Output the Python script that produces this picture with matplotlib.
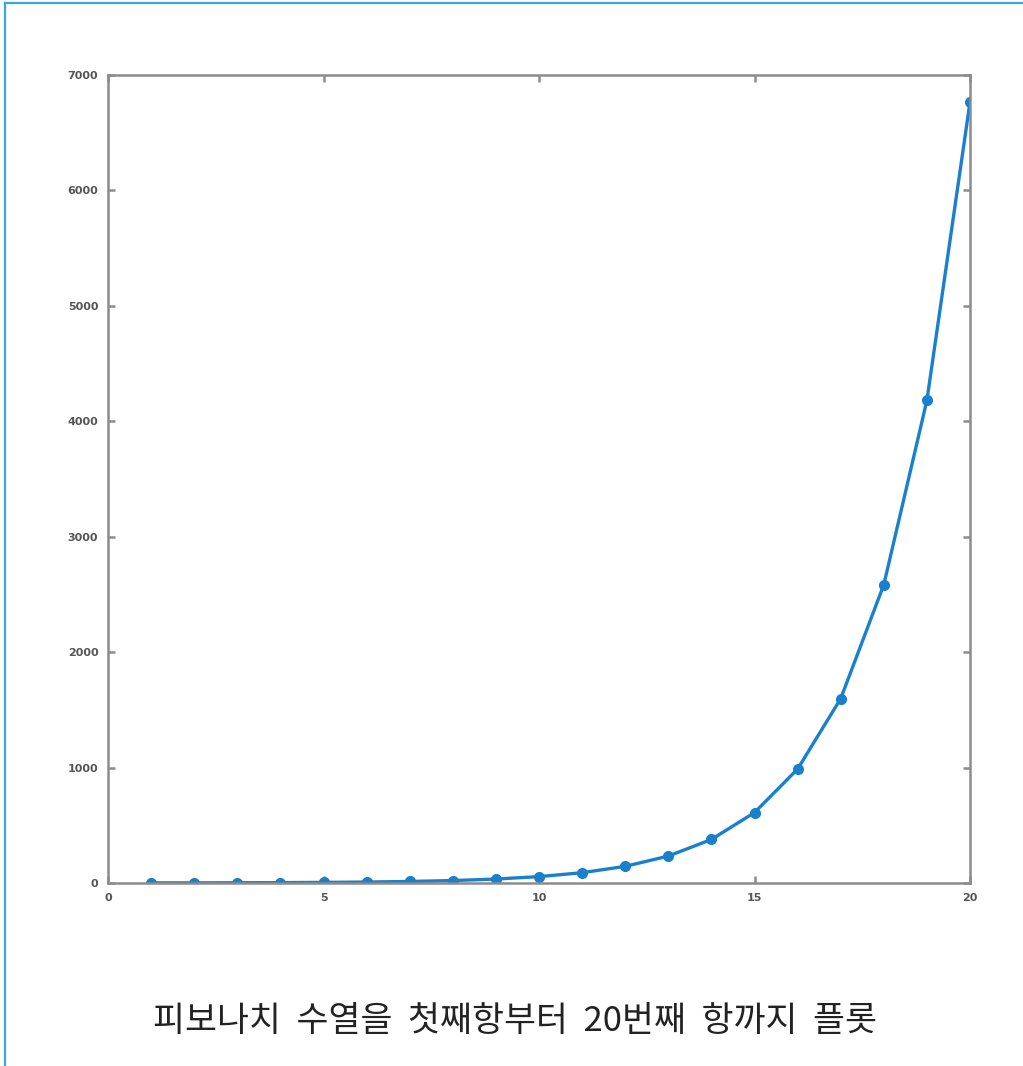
import matplotlib.pyplot as plt
from matplotlib.lines import Line2D

# Fibonacci terms 1..20
n = list(range(1, 21))
fib = [1, 1, 2, 3, 5, 8, 13, 21, 34, 55, 89, 144, 233, 377, 610, 987,
       1597, 2584, 4181, 6765]
x_ticks = [0, 5, 10, 15, 20]
y_ticks = [0, 1000, 2000, 3000, 4000, 5000, 6000, 7000]
caption = '피보나치  수열을  첫째항부터  20번째  항까지  플롯'

plt.rcParams['font.family'] = ['Noto Sans CJK KR', 'DejaVu Sans']

fig = plt.figure(figsize=(10.23, 10.66), dpi=100)
ax = fig.add_axes([0.1056, 0.1717, 0.8426, 0.7580])

ax.plot(n, fib, color='#1a80cc', linewidth=2.4, marker='o',
        markersize=7, markerfacecolor='#1a80cc', markeredgecolor='#1a80cc')

ax.set_xlim(0, 20)
ax.set_ylim(0, 7000)
ax.set_xticks(x_ticks)
ax.set_yticks(y_ticks)
for s in ax.spines.values():
    s.set_color('#8c8c8c')
    s.set_linewidth(1.8)
ax.tick_params(direction='in', length=5, width=1.8, color='#8c8c8c',
               top=True, right=True, labelsize=8, labelcolor='#555555', pad=7)
for lab in ax.get_xticklabels() + ax.get_yticklabels():
    lab.set_fontfamily('DejaVu Sans')
    lab.set_fontweight('bold')

# caption below the chart
fig.text(0.503, 0.042, caption, ha='center', va='center',
         fontsize=25, color='#222222')

# light-blue frame along the top and left edges
fig.add_artist(Line2D([0.005, 1.0], [0.9975, 0.9975], transform=fig.transFigure,
                      color='#3aa6dc', linewidth=1.6))
fig.add_artist(Line2D([0.0053, 0.0053], [0.0, 0.9975], transform=fig.transFigure,
                      color='#3aa6dc', linewidth=1.6))

plt.savefig('out.png', dpi=100)
plt.close()
